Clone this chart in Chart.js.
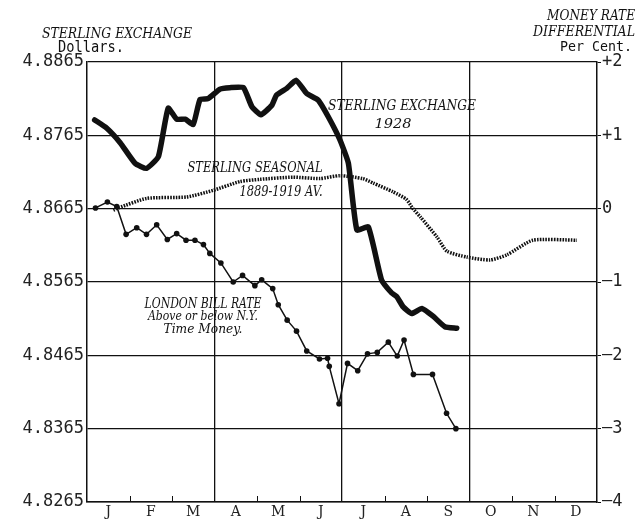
<!DOCTYPE html>
<html><head><meta charset="utf-8">
<script src="https://cdn.jsdelivr.net/npm/chart.js@4"></script>
<style>html,body{margin:0;padding:0;background:#fff}</style>
</head><body>
<canvas id="c" width="640" height="520"></canvas>
<script>
// ---- data (months as decimal position in year: 0 = start of Jan) ----
const months = ['J','F','M','A','M','J','J','A','S','O','N','D'];
const leftTicks = [4.8265, 4.8365, 4.8465, 4.8565, 4.8665, 4.8765, 4.8865];
const rightTicks = [-4, -3, -2, -1, 0, 1, 2];

const sterlingX = [0.18,0.46,0.78,1.13,1.40,1.68,1.91,2.11,2.31,2.50,2.66,2.85,3.13,3.36,3.68,3.88,4.09,4.35,4.46,4.70,4.92,5.17,5.44,5.68,5.95,6.15,6.35,6.62,6.93,7.17,7.29,7.44,7.64,7.88,8.15,8.42,8.70];
const sterlingY = [4.8786,4.8775,4.8755,4.8727,4.8720,4.8736,4.8802,4.8787,4.8787,4.8780,4.8814,4.8815,4.8828,4.8830,4.8830,4.8804,4.8793,4.8806,4.8820,4.8829,4.8840,4.8822,4.8813,4.8790,4.8759,4.8727,4.8636,4.8640,4.8568,4.8550,4.8545,4.8531,4.8522,4.8529,4.8518,4.8504,4.8502];

const seasonalX = [0.62,0.74,1.40,2.35,2.97,3.60,4.07,4.85,5.48,5.95,6.49,6.73,7.20,7.51,7.67,7.84,8.24,8.47,8.94,9.48,9.88,10.49,11.53];
const seasonalY = [4.8663,4.8666,4.8679,4.8681,4.8690,4.8702,4.8705,4.8708,4.8706,4.8710,4.8706,4.8700,4.8688,4.8678,4.8665,4.8654,4.8626,4.8607,4.8599,4.8595,4.8602,4.8622,4.8622];

const billX = [0.20,0.48,0.70,0.92,1.17,1.40,1.64,1.89,2.11,2.33,2.54,2.74,2.89,3.15,3.44,3.66,3.95,4.11,4.37,4.50,4.71,4.93,5.17,5.47,5.66,5.70,5.93,6.13,6.37,6.60,6.83,7.09,7.30,7.46,7.68,8.13,8.46,8.68];
const billY = [0.01,0.09,0.03,-0.35,-0.26,-0.35,-0.22,-0.42,-0.34,-0.43,-0.43,-0.49,-0.61,-0.74,-1.00,-0.91,-1.05,-0.97,-1.09,-1.31,-1.52,-1.67,-1.94,-2.05,-2.04,-2.15,-2.66,-2.11,-2.21,-1.98,-1.96,-1.82,-2.01,-1.79,-2.26,-2.26,-2.79,-3.00];

const pts = (xs, ys) => xs.map((x, i) => ({x: x, y: ys[i]}));
const xTickVals = [];
for (let i = 0; i <= 24; i++) xTickVals.push(i / 2);

const INK = '#111';
const SERIF = '"DejaVu Serif", "Liberation Serif", serif';
const MONO = '"DejaVu Sans Mono", monospace';

// draw text at a given font size, squeezed/stretched horizontally to a target width
function fitText(ctx, text, cx, baseline, width, size, style, family) {
  ctx.save();
  ctx.font = style + ' ' + size + 'px ' + family;
  const w = ctx.measureText(text).width;
  ctx.translate(cx, baseline);
  ctx.scale(width / w, 1);
  ctx.textAlign = 'center';
  ctx.textBaseline = 'alphabetic';
  ctx.fillStyle = INK;
  ctx.fillText(text, 0, 0);
  ctx.restore();
}

const labelsPlugin = {
  id: 'labels',
  afterDatasetsDraw(chart) {
    const ctx = chart.ctx;
    const xs = chart.scales.x;
    const area = chart.chartArea;
    ctx.save();
    // inner month ticks along the bottom
    ctx.strokeStyle = INK;
    ctx.lineWidth = 1;
    for (let m = 1; m < 12; m++) {
      if (m % 3 === 0) continue;
      const px = Math.round(xs.getPixelForValue(m)) + 0.5;
      ctx.beginPath();
      ctx.moveTo(px, area.bottom);
      ctx.lineTo(px, area.bottom - 6);
      ctx.stroke();
    }
    // headers
    fitText(ctx, 'STERLING EXCHANGE', 117, 38, 150, 14, 'italic', SERIF);
    fitText(ctx, 'Dollars.', 91, 52, 66, 15, 'normal', MONO);
    fitText(ctx, 'MONEY RATE', 591, 20, 88, 14, 'italic', SERIF);
    fitText(ctx, 'DIFFERENTIAL', 584, 36, 102, 14, 'italic', SERIF);
    fitText(ctx, 'Per Cent.', 596, 51, 72, 14, 'normal', MONO);
    // series annotations
    fitText(ctx, 'STERLING EXCHANGE', 402, 110, 148, 15, 'italic', SERIF);
    fitText(ctx, '1928', 393, 128, 37, 12.5, 'italic', SERIF);
    fitText(ctx, 'STERLING SEASONAL', 255, 172, 135, 14, 'italic', SERIF);
    fitText(ctx, '1889-1919 AV.', 281, 196, 83, 15, 'italic', SERIF);
    fitText(ctx, 'LONDON BILL RATE', 203, 308, 117, 14.5, 'italic', SERIF);
    fitText(ctx, 'Above or below N.Y.', 203, 320, 110, 13.5, 'italic', SERIF);
    fitText(ctx, 'Time Money.', 203, 333, 79, 13.5, 'italic', SERIF);
    ctx.restore();
  }
};

new Chart(document.getElementById('c'), {
  type: 'line',
  data: {
    datasets: [
      {
        label: 'Sterling Exchange 1928',
        data: pts(sterlingX, sterlingY),
        yAxisID: 'y',
        borderColor: INK,
        borderWidth: 5.5,
        borderJoinStyle: 'round',
        borderCapStyle: 'round',
        pointRadius: 0,
        tension: 0.15,
        fill: false
      },
      {
        label: 'Sterling Seasonal 1889-1919 Av.',
        data: pts(seasonalX, seasonalY),
        yAxisID: 'y',
        borderColor: INK,
        borderWidth: 3.5,
        borderDash: [1.6, 1.2],
        pointRadius: 0,
        tension: 0.2,
        fill: false
      },
      {
        label: 'London Bill Rate',
        data: pts(billX, billY),
        yAxisID: 'yR',
        borderColor: INK,
        borderWidth: 1.5,
        pointRadius: 2.8,
        pointBackgroundColor: INK,
        pointBorderColor: INK,
        pointBorderWidth: 0,
        tension: 0,
        fill: false
      }
    ]
  },
  options: {
    responsive: false,
    animation: false,
    devicePixelRatio: 1,
    layout: {padding: {top: 62, left: 0, right: 0, bottom: 0}},
    plugins: {legend: {display: false}, tooltip: {enabled: false}, title: {display: false}},
    scales: {
      x: {
        type: 'linear', min: 0, max: 12,
        afterBuildTicks: s => { s.ticks = xTickVals.map(v => ({value: v})); },
        afterFit: s => { s.height = 18; },
        ticks: {
          autoSkip: false, maxRotation: 0, minRotation: 0, padding: 2,
          color: '#222',
          font: {family: SERIF, size: 14},
          callback: v => (Math.abs(v % 1 - 0.5) < 1e-6) ? months[Math.floor(v)] : ''
        },
        grid: {
          drawTicks: false,
          lineWidth: 1.3,
          color: c => {
            const v = c.tick ? c.tick.value : -1;
            return (v > 0 && v < 12 && Math.abs(v % 3) < 1e-6) ? INK : 'rgba(0,0,0,0)';
          }
        },
        border: {color: INK, width: 1.5}
      },
      y: {
        position: 'left', min: 4.8265, max: 4.8865,
        afterBuildTicks: s => { s.ticks = leftTicks.map(v => ({value: v})); },
        afterFit: s => { s.width = 87; },
        ticks: {
          padding: 3, color: '#222',
          font: {family: MONO, size: 17},
          callback: v => Number(v).toFixed(4)
        },
        grid: {drawTicks: false, color: INK, lineWidth: 1.3},
        border: {color: INK, width: 1.5}
      },
      yR: {
        position: 'right', min: -4, max: 2,
        afterBuildTicks: s => { s.ticks = rightTicks.map(v => ({value: v})); },
        afterFit: s => { s.width = 43; },
        ticks: {
          padding: 1, color: '#222',
          font: {family: MONO, size: 17},
          callback: v => v > 0 ? '+' + v : (v < 0 ? '\u2013' + Math.abs(v) : '0')
        },
        grid: {drawOnChartArea: false, drawTicks: true, tickLength: 4, tickColor: INK},
        border: {color: INK, width: 1.5}
      }
    }
  },
  plugins: [labelsPlugin]
});
</script>
</body></html>
